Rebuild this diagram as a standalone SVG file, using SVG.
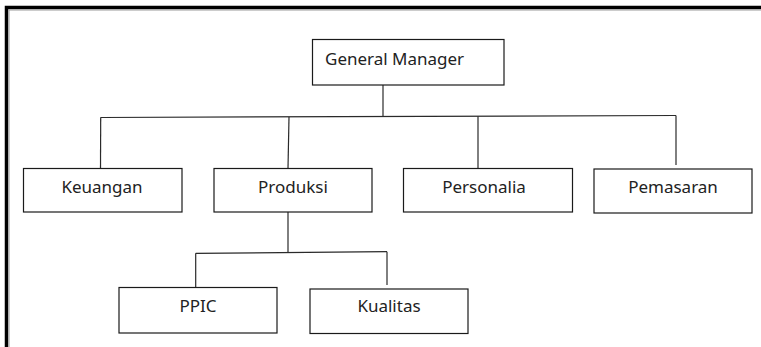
<svg xmlns="http://www.w3.org/2000/svg" width="761" height="347" viewBox="0 0 761 347">
  <style>
    .box { fill: #ffffff; stroke: #1a1a1a; stroke-width: 1.2; }
    .label { font-family: "Noto Sans", "Open Sans", "DejaVu Sans", sans-serif; font-size: 17px; fill: #222222; }
    .mid { text-anchor: middle; }
    .link { stroke: #2a2a2a; stroke-width: 1.2; fill: none; }
    .frame { stroke: #000000; stroke-width: 3.5; fill: none; }
  </style>
  <rect width="761" height="347" fill="#ffffff"/>

  <!-- page frame: top and left rules only -->
  <g id="frame">
    <path class="frame" d="M6.5 347 V7.5 H761"/>
    <path d="M9 347 V10 H761" stroke="#9a9a9a" stroke-width="1" fill="none"/>
  </g>

  <!-- org chart connectors -->
  <g id="connectors">
    <line class="link" x1="383" y1="85" x2="383" y2="117"/>
    <line class="link" x1="100.5" y1="117.5" x2="676" y2="115.5"/>
    <line class="link" x1="100.7" y1="117.5" x2="100.5" y2="168"/>
    <line class="link" x1="289" y1="117" x2="288" y2="168"/>
    <line class="link" x1="478" y1="116.3" x2="478" y2="168"/>
    <line class="link" x1="676" y1="115.5" x2="676" y2="165"/>
    <line class="link" x1="288" y1="212" x2="288" y2="253"/>
    <line class="link" x1="195.7" y1="253.3" x2="387" y2="251.7"/>
    <line class="link" x1="195.7" y1="253.3" x2="195.7" y2="287"/>
    <line class="link" x1="387" y1="251.7" x2="387" y2="285"/>
  </g>

  <g id="general-manager">
    <rect class="box" x="312.5" y="39.5" width="191.5" height="45.5"/>
    <text class="label" x="325" y="65">General Manager</text>
  </g>

  <g id="keuangan">
    <rect class="box" x="23.5" y="168.5" width="158.5" height="43.5"/>
    <text class="label mid" x="102" y="193">Keuangan</text>
  </g>

  <g id="produksi">
    <rect class="box" x="214" y="168.5" width="158" height="43.5"/>
    <text class="label mid" x="293" y="193">Produksi</text>
  </g>

  <g id="personalia">
    <rect class="box" x="403.5" y="168.5" width="169" height="43.5"/>
    <text class="label mid" x="484" y="193">Personalia</text>
  </g>

  <g id="pemasaran">
    <rect class="box" x="594" y="169" width="158" height="44"/>
    <text class="label mid" x="673" y="193">Pemasaran</text>
  </g>

  <g id="ppic">
    <rect class="box" x="119" y="287.5" width="158" height="45.5"/>
    <text class="label mid" x="198" y="312">PPIC</text>
  </g>

  <g id="kualitas">
    <rect class="box" x="310" y="289" width="158" height="44.5"/>
    <text class="label mid" x="389" y="312">Kualitas</text>
  </g>
</svg>
